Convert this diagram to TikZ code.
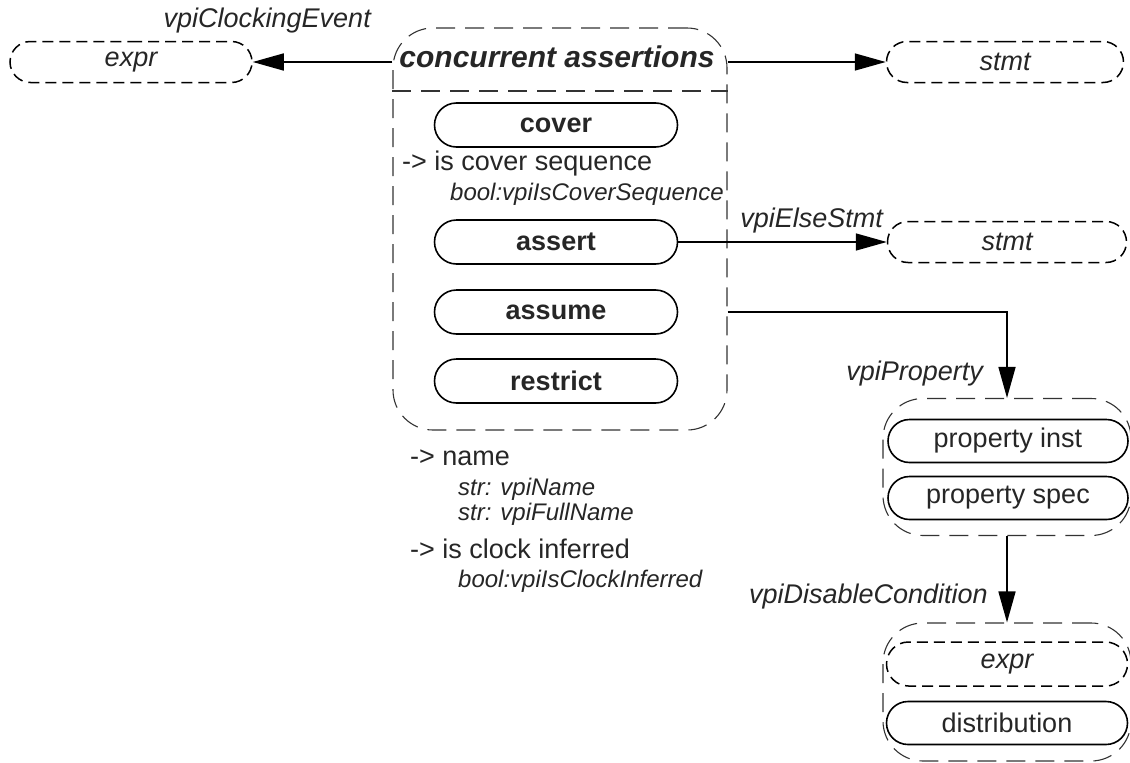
\documentclass[tikz,border=0pt]{standalone}
\usepackage{fontspec}
\setmainfont{Liberation Sans}
\usetikzlibrary{arrows.meta, positioning, shapes.misc}

\begin{document}
\begin{tikzpicture}[x=1pt, y=-1pt, >={Triangle[length=31pt, width=17pt]},
    every node/.style={text=black!85},
    objbox/.style={draw=black, line width=1.6pt, rounded rectangle, inner sep=0pt,
        minimum width=243pt, minimum height=44pt, font=\fontsize{27}{32}\selectfont},
    refbox/.style={objbox, dash pattern=on 11pt off 6pt, line width=1.5pt, font=\fontsize{27}{32}\selectfont\itshape,
        minimum height=41pt},
    grpbox/.style={draw=black!80, line width=1.1pt, dash pattern=on 19pt off 10pt, rounded corners=40pt, inner sep=0pt},
    lbl/.style={font=\fontsize{27}{32}\selectfont\itshape, inner sep=0pt},
    prop/.style={font=\fontsize{27}{32}\selectfont, inner sep=0pt, anchor=base west},
    propval/.style={font=\fontsize{24}{28}\selectfont\itshape, inner sep=0pt, anchor=base west},
    conn/.style={line width=1.6pt}]
    \useasboundingbox (0,0) rectangle (1130,763);

    % 1. Khoi concurrent assertions
    \node[grpbox, minimum width=334pt, minimum height=402pt] (conc) at (560,229) {};
    \node[font=\fontsize{30}{36}\selectfont\bfseries\itshape, inner sep=0pt, anchor=base] (title) at (557,67) {concurrent assertions};
    \draw[grpbox] (conc.west |- 0,91) -- (conc.east |- 0,91);
    \node[objbox, font=\fontsize{27}{32}\selectfont\bfseries] (cover) at (556,125) {cover};
    \node[objbox, font=\fontsize{27}{32}\selectfont\bfseries] (assert) at (556,242) {assert};
    \node[objbox, font=\fontsize{27}{32}\selectfont\bfseries] (assume) at (556,312) {assume};
    \node[objbox, font=\fontsize{27}{32}\selectfont\bfseries] (restrict) at (556,381) {restrict};
    \node[prop] (coverSeq) at (402,170) {-> is cover sequence};
    \node[propval] (coverSeqVal) at (450,200) {bool:vpiIsCoverSequence};

    % 2. Thuoc tinh ben duoi
    \node[prop] (name) at (410,465) {-> name};
    \node[propval] (vpiName) at (458,495) {str: vpiName};
    \node[propval] (vpiFullName) at (458,520) {str: vpiFullName};
    \node[prop] (clkInf) at (410,558) {-> is clock inferred};
    \node[propval] (clkInfVal) at (458,587) {bool:vpiIsClockInferred};

    % 3. Cac doi tuong tham chieu
    \node[refbox, minimum width=242pt] (exprClk) at (131,62) {expr};
    \node[refbox, minimum width=237pt] (stmtTop) at (1005,62) {stmt};
    \node[refbox, minimum width=239pt] (stmtElse) at (1007,242) {stmt};

    % 4. Khoi property
    \node[grpbox, minimum width=248pt, minimum height=137pt] (propGrp) at (1007,467) {};
    \node[objbox, minimum width=240pt, minimum height=43pt] (propInst) at (1008,441) {property inst};
    \node[objbox, minimum width=240pt, minimum height=43pt] (propSpec) at (1008,498) {property spec};

    % 5. Khoi disable condition
    \node[grpbox, minimum width=248pt, minimum height=138pt] (disGrp) at (1007,692) {};
    \node[refbox, minimum width=241pt, minimum height=44pt] (exprDis) at (1007,664) {expr};
    \node[objbox, minimum width=241pt, minimum height=43pt] (distrib) at (1007,723) {distribution};

    % 6. Cac mui ten
    \draw[conn, ->] (conc.west |- exprClk.east) -- (exprClk.east);
    \node[lbl, anchor=base east] (lClk) at (371,27) {vpiClockingEvent};
    \draw[conn, ->] (conc.east |- stmtTop.west) -- (stmtTop.west);
    \draw[conn, ->] (assert.east) -- (stmtElse.west);
    \node[lbl, anchor=base east] (lElse) at (883,227) {vpiElseStmt};
    \draw[conn, ->] (conc.east |- assume.east) -| (propGrp.north);
    \node[lbl, anchor=base east] (lProp) at (983,380) {vpiProperty};
    \draw[conn, ->] (propGrp.south) -- (disGrp.north);
    \node[lbl, anchor=base east] (lDis) at (988,603) {vpiDisableCondition};

\end{tikzpicture}
\end{document}
